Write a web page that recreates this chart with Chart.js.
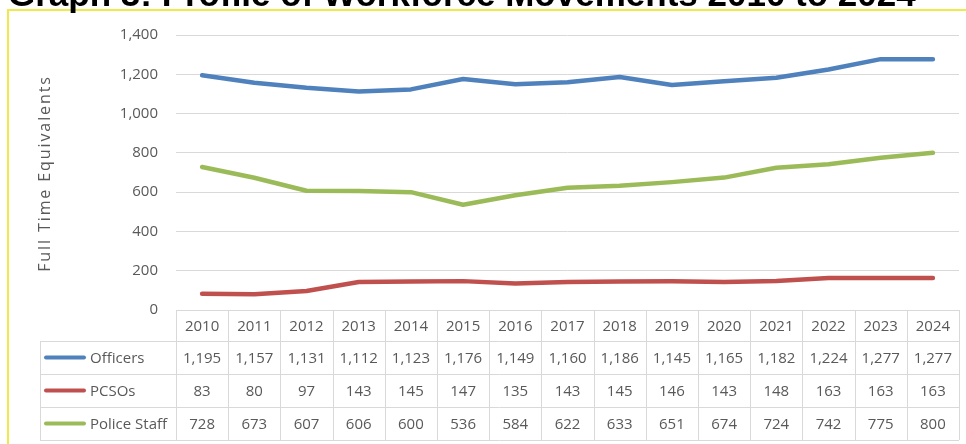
<!DOCTYPE html>
<html>
<head>
<meta charset="utf-8">
<script src="https://cdn.jsdelivr.net/npm/chart.js@4/dist/chart.umd.min.js"></script>
<style>
  html, body { margin: 0; padding: 0; background: #fff; }
  #wrap { position: relative; width: 966px; height: 444px; overflow: hidden; }
  #frame { position: absolute; left: 7px; top: 9px; width: 1000px; height: 500px;
           border-left: 2px solid #f0e94a; border-top: 2px solid #f0e94a; box-sizing: border-box; }
  canvas { position: absolute; left: 0; top: 0; }
</style>
</head>
<body>
<div id="wrap">
  <div id="frame"></div>
  <canvas id="c" width="966" height="444"></canvas>
</div>
<script>
const chartTitle = "Graph 3: Profile of Workforce Movements 2010 to 2024";
const axisTitle = "Full Time Equivalents";
const years = ["2010","2011","2012","2013","2014","2015","2016","2017","2018","2019","2020","2021","2022","2023","2024"];
const officers = [1195,1157,1131,1112,1123,1176,1149,1160,1186,1145,1165,1182,1224,1277,1277];
const pcsos = [83,80,97,143,145,147,135,143,145,146,143,148,163,163,163];
const policeStaff = [728,673,607,606,600,536,584,622,633,651,674,724,742,775,800];
const seriesNames = ["Officers","PCSOs","Police Staff"];
const seriesColors = ["#4f81bd","#c0504d","#9bbb59"];

const FONT = "'Open Sans', sans-serif";
const TEXT = "#595959";
const GRID = "#d9d9d9";

const fmt = v => v.toLocaleString('en-US');

const tablePlugin = {
  id: 'dataTable',
  afterDraw(chart) {
    const ctx = chart.ctx;
    const x = chart.scales.x;
    const area = chart.chartArea;
    const n = years.length;
    const colW = (area.right - area.left) / n;
    const top = area.bottom;
    const headerH = 31;
    const rowH = 33;
    const legendLeft = 40;
    const rowsTop = top + headerH;
    const bottom = rowsTop + rowH * 3;
    ctx.save();
    ctx.strokeStyle = GRID;
    ctx.lineWidth = 1;
    ctx.beginPath();
    ctx.moveTo(area.left, top + 0.5); ctx.lineTo(area.right, top + 0.5);
    for (let r = 0; r <= 3; r++) {
      const y = Math.round(rowsTop + r * rowH) + 0.5;
      ctx.moveTo(legendLeft, y); ctx.lineTo(area.right, y);
    }
    for (let i = 0; i <= n; i++) {
      const xx = Math.round(area.left + i * colW) + 0.5;
      ctx.moveTo(xx, top); ctx.lineTo(xx, bottom);
    }
    ctx.moveTo(legendLeft + 0.5, rowsTop); ctx.lineTo(legendLeft + 0.5, bottom);
    ctx.stroke();

    ctx.fillStyle = TEXT;
    ctx.font = "15px " + FONT;
    ctx.textAlign = 'center';
    ctx.textBaseline = 'middle';
    years.forEach((yr, i) => {
      ctx.fillText(yr, x.getPixelForValue(i), top + headerH / 2 + 1);
    });
    chart.data.datasets.forEach((ds, r) => {
      const cy = rowsTop + r * rowH + rowH / 2 + 1;
      ds.data.forEach((v, i) => {
        ctx.fillStyle = TEXT;
        ctx.textAlign = 'center';
        ctx.fillText(fmt(v), x.getPixelForValue(i), cy);
      });
      ctx.strokeStyle = ds.borderColor;
      ctx.lineWidth = 4;
      ctx.lineCap = 'round';
      ctx.beginPath();
      ctx.moveTo(46, cy - 1); ctx.lineTo(84, cy - 1);
      ctx.stroke();
      ctx.fillStyle = TEXT;
      ctx.textAlign = 'left';
      ctx.fillText(ds.label, 90, cy);
    });

    // y axis title
    ctx.save();
    ctx.translate(45, (area.top + area.bottom) / 2 + 1);
    ctx.rotate(-Math.PI / 2);
    ctx.font = "16px " + FONT;
    ctx.letterSpacing = "1.9px";
    ctx.fillStyle = TEXT;
    ctx.textAlign = 'center';
    ctx.textBaseline = 'middle';
    ctx.fillText(axisTitle, 0, 0);
    ctx.restore();

    // chart title (cropped at top)
    ctx.fillStyle = "#000";
    ctx.font = "bold 35px 'Liberation Sans', Arial, sans-serif";
    ctx.textAlign = 'left';
    ctx.textBaseline = 'alphabetic';
    ctx.fillText(chartTitle, 8, 6);
    ctx.restore();
  }
};

new Chart(document.getElementById('c'), {
  type: 'line',
  data: {
    labels: years,
    datasets: [
      { label: seriesNames[0], data: officers, borderColor: seriesColors[0], backgroundColor: seriesColors[0] },
      { label: seriesNames[1], data: pcsos, borderColor: seriesColors[1], backgroundColor: seriesColors[1] },
      { label: seriesNames[2], data: policeStaff, borderColor: seriesColors[2], backgroundColor: seriesColors[2] }
    ]
  },
  options: {
    responsive: false,
    animation: false,
    layout: { padding: { left: 0, right: 7, top: 35, bottom: 134 } },
    elements: {
      line: { borderWidth: 4.5, tension: 0, borderCapStyle: 'round', borderJoinStyle: 'round' },
      point: { radius: 0, hoverRadius: 0 }
    },
    plugins: { legend: { display: false }, tooltip: { enabled: false }, title: { display: false } },
    scales: {
      x: { type: 'category', offset: true, display: false },
      y: {
        min: 0, max: 1400,
        ticks: { stepSize: 200, color: TEXT, font: { family: FONT, size: 15 }, padding: 18,
                 callback: v => fmt(v) },
        grid: { color: GRID, lineWidth: 1, drawTicks: false },
        border: { display: false },
        title: { display: false },
        afterFit(scale) { scale.width = 176; }
      }
    }
  },
  plugins: [tablePlugin]
});
</script>
</body>
</html>
